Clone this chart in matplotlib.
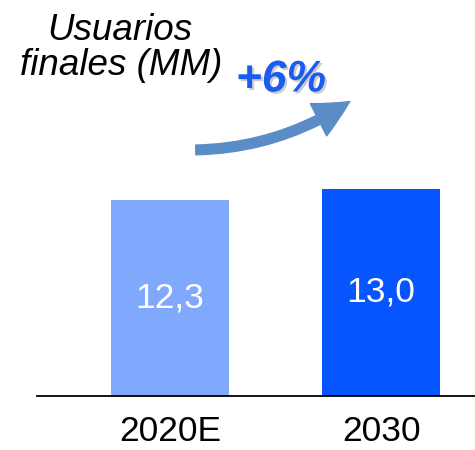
import matplotlib.pyplot as plt
import matplotlib.patheffects as pe
from matplotlib.patches import FancyArrowPatch

plt.rcParams['font.family'] = ['Liberation Sans', 'DejaVu Sans']

categories = ['2020E', '2030']
values = [12.3, 13.0]
value_labels = ['12,3', '13,0']
bar_colors = ['#80A8FC', '#0755FF']
growth_label = '+6%'
title_lines = ['Usuarios', 'finales (MM)']

fig = plt.figure(figsize=(4.75, 4.5), dpi=100)
ax = fig.add_axes([37 / 475, 54.3 / 450, 1 - 37 / 475, 395.7 / 450])

x = range(len(categories))
bars = ax.bar(x, values, width=0.56, color=bar_colors)
for b, lab in zip(bars, value_labels):
    ax.text(b.get_x() + b.get_width() / 2, b.get_height() / 2, lab,
            ha='center', va='center', color='white', fontsize=25.5)

ax.set_xlim(-0.63, 1.445)
ax.set_ylim(0, 24.9)
ax.set_xticks(list(x))
ax.set_xticklabels(categories, fontsize=25.5)
ax.tick_params(axis='x', length=0, pad=14)
ax.set_yticks([])
for s in ['top', 'left', 'right']:
    ax.spines[s].set_visible(False)
ax.spines['bottom'].set_linewidth(1.3)

# title
fig.text(120 / 475, 1 - 40 / 450, title_lines[0], ha='center', va='baseline',
         fontsize=26.5, style='italic')
fig.text(121 / 475, 1 - 75 / 450, title_lines[1], ha='center', va='baseline',
         fontsize=26.5, style='italic')

# growth arrow and label
arrow = FancyArrowPatch((193 / 475, 1 - 150 / 450), (352 / 475, 1 - 100 / 450),
                        transform=fig.transFigure, connectionstyle='arc3,rad=0.15',
                        arrowstyle='simple,head_width=26,head_length=26,tail_width=7',
                        color='#5A8DC8', mutation_scale=1)
fig.patches.append(arrow)
fig.text(281 / 475, 1 - 80 / 450, growth_label, ha='center', va='center',
         fontsize=32, fontweight='bold', style='italic', color='#1A5BF0',
         path_effects=[pe.withSimplePatchShadow(offset=(1.5, -1.5),
                                                shadow_rgbFace='gray', alpha=0.4)])

fig.savefig('out.png', dpi=100)
